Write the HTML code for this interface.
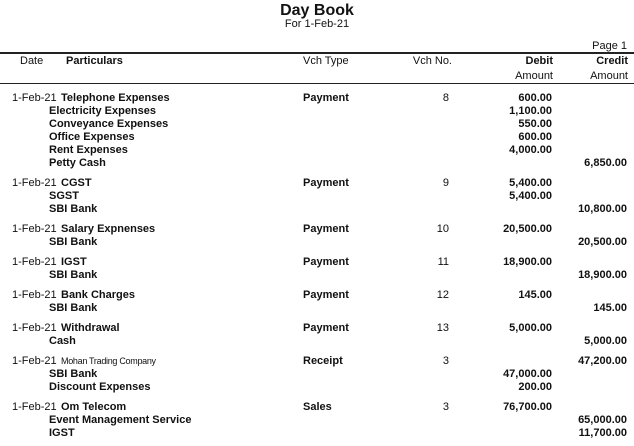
<!DOCTYPE html>
<html><head><style>
body{margin:0;width:634px;height:446px;background:#fff;position:relative;font-family:"Liberation Sans",Arial,sans-serif;color:#111;overflow:hidden}
.t{position:absolute;white-space:nowrap;font-size:11px;line-height:12px}
.b{font-weight:bold}
.r{text-align:right}
.ln{position:absolute;left:0;width:634px;background:#222}
</style></head><body>
<div class="t b" style="left:0;width:634px;text-align:center;top:2px;font-size:16px;line-height:18px">Day Book</div>
<div class="t" style="left:0;width:634px;text-align:center;top:18px">For 1-Feb-21</div>
<div class="t r" style="right:7px;top:40px">Page 1</div>
<div class="ln" style="top:52px;height:2px"></div>
<div class="t" style="left:20px;top:55px">Date</div>
<div class="t b" style="left:66px;top:55px">Particulars</div>
<div class="t" style="left:303px;top:55px">Vch Type</div>
<div class="t r" style="right:182px;top:55px">Vch No.</div>
<div class="t b r" style="right:81px;top:55px">Debit</div>
<div class="t b r" style="right:6px;top:55px">Credit</div>
<div class="t r" style="right:81px;top:70px">Amount</div>
<div class="t r" style="right:6px;top:70px">Amount</div>
<div class="ln" style="top:83px;height:1px"></div>
<div id="rows"></div>
<script>
var R=[
[92,"1-Feb-21","Telephone Expenses","Payment","8","600.00",""],
[105,"","Electricity Expenses","","","1,100.00",""],
[118,"","Conveyance Expenses","","","550.00",""],
[131,"","Office Expenses","","","600.00",""],
[144,"","Rent Expenses","","","4,000.00",""],
[157,"","Petty Cash","","","","6,850.00"],
[177,"1-Feb-21","CGST","Payment","9","5,400.00",""],
[190,"","SGST","","","5,400.00",""],
[203,"","SBI Bank","","","","10,800.00"],
[223,"1-Feb-21","Salary Expnenses","Payment","10","20,500.00",""],
[236,"","SBI Bank","","","","20,500.00"],
[256,"1-Feb-21","IGST","Payment","11","18,900.00",""],
[269,"","SBI Bank","","","","18,900.00"],
[289,"1-Feb-21","Bank Charges","Payment","12","145.00",""],
[302,"","SBI Bank","","","","145.00"],
[322,"1-Feb-21","Withdrawal","Payment","13","5,000.00",""],
[335,"","Cash","","","","5,000.00"],
[355,"1-Feb-21","Mohan Trading Company","Receipt","3","","47,200.00"],
[368,"","SBI Bank","","","47,000.00",""],
[381,"","Discount Expenses","","","200.00",""],
[401,"1-Feb-21","Om Telecom","Sales","3","76,700.00",""],
[414,"","Event Management Service","","","","65,000.00"],
[427,"","IGST","","","","11,700.00"]];
var h="";
R.forEach(function(r){var y=r[0];
if(r[1])h+='<div class="t" style="left:12px;top:'+y+'px">'+r[1]+'</div>';
var pl=r[1]?61:49;
var st=r[2]=="Mohan Trading Company"?'font-weight:normal;font-size:9px;letter-spacing:-0.3px;':'';
h+='<div class="t b" style="left:'+pl+'px;top:'+y+'px;'+st+'">'+r[2]+'</div>';
if(r[3])h+='<div class="t b" style="left:303px;top:'+y+'px">'+r[3]+'</div>';
if(r[4])h+='<div class="t r" style="right:185px;top:'+y+'px">'+r[4]+'</div>';
if(r[5])h+='<div class="t b r" style="right:82px;top:'+y+'px">'+r[5]+'</div>';
if(r[6])h+='<div class="t b r" style="right:7px;top:'+y+'px">'+r[6]+'</div>';
});
document.getElementById("rows").innerHTML=h;
</script>
</body></html>
